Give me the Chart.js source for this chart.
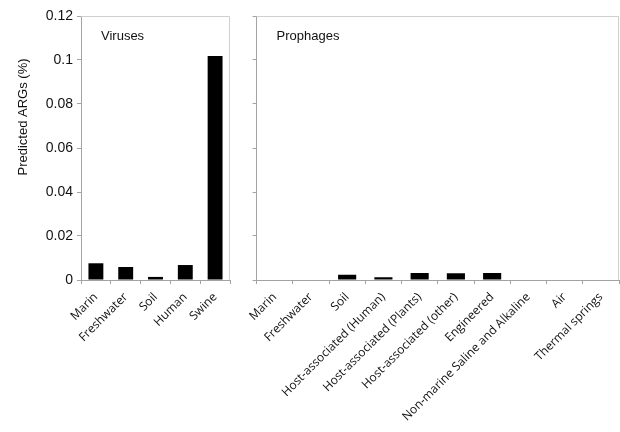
<!DOCTYPE html>
<html>
<head>
<meta charset="utf-8">
<script src="https://cdn.jsdelivr.net/npm/chart.js@4/dist/chart.umd.min.js"></script>
<style>
  html, body { margin: 0; padding: 0; background: #fff; overflow: hidden; }
  #wrap { position: relative; width: 620px; height: 432px; }
  #cv { position: absolute; left: 0; top: 0; }
  #cp { position: absolute; left: 245px; top: 0; }
</style>
</head>
<body>
<div id="wrap">
  <canvas id="cv" width="240" height="432"></canvas>
  <canvas id="cp" width="375" height="432"></canvas>
</div>
<script>
  // data
  const virusCategories = ["Marin", "Freshwater", "Soil", "Human", "Swine"];
  const virusValues = [0.0076, 0.0059, 0.0014, 0.0068, 0.1018];

  const prophageCategories = [
    "Marin",
    "Freshwater",
    "Soil",
    "Host-associated (Human)",
    "Host-associated (Plants)",
    "Host-associated (other)",
    "Engineered",
    "Non-marine Saline and Alkaline",
    "Air",
    "Thermal springs",
  ];
  const prophageValues = [0, 0, 0.0024, 0.0012, 0.0032, 0.0031, 0.0032, 0, 0, 0];

  const yTickLabels = ["0", "0.02", "0.04", "0.06", "0.08", "0.1", "0.12"];
  const Y_MAX = 0.12;
  const Y_STEP = 0.02;

  const AXIS = "#a3a3a3";
  const BOX = "#cfcfcf";
  const TEXT = "#111";
  const SANS = "'Liberation Sans', Arial, sans-serif";
  const CAT_FONT = "'Open Sans', sans-serif";

  const AREA_TOP = 16;
  const AREA_BOTTOM = 280;
  const H = 432;

  // thin box on top/right of the plot + panel caption
  function framePlugin(caption) {
    return {
      id: "frame",
      afterDraw(chart) {
        const { ctx, chartArea: a } = chart;
        const t = Math.round(a.top) + 0.5;
        const r = Math.round(a.right) - 0.5;
        ctx.save();
        ctx.strokeStyle = BOX;
        ctx.lineWidth = 1;
        ctx.beginPath();
        ctx.moveTo(a.left, t);
        ctx.lineTo(r, t);
        ctx.lineTo(r, a.bottom);
        ctx.stroke();
        ctx.fillStyle = TEXT;
        ctx.font = "13px " + SANS;
        ctx.textBaseline = "middle";
        ctx.textAlign = "left";
        ctx.fillText(caption, a.left + 20, a.top + 20);
        ctx.restore();
      },
    };
  }

  const yTitlePlugin = {
    id: "ytitle",
    afterDraw(chart) {
      const ctx = chart.ctx;
      ctx.save();
      ctx.translate(23, 117);
      ctx.rotate(-Math.PI / 2);
      ctx.fillStyle = TEXT;
      ctx.font = "13px " + SANS;
      ctx.textAlign = "center";
      ctx.textBaseline = "middle";
      ctx.fillText("Predicted ARGs (%)", 0, 0);
      ctx.restore();
    },
  };

  function makeChart(id, labels, values, o) {
    return new Chart(document.getElementById(id), {
      type: "bar",
      data: {
        labels: labels,
        datasets: [
          {
            data: values,
            backgroundColor: "#000",
            borderWidth: 0,
            barPercentage: 0.5,
            categoryPercentage: 1,
          },
        ],
      },
      options: {
        responsive: false,
        animation: false,
        layout: { padding: { top: AREA_TOP, right: o.padRight, left: 0, bottom: 0 } },
        plugins: {
          legend: { display: false },
          tooltip: { enabled: false },
        },
        scales: {
          x: {
            grid: { drawOnChartArea: false, drawTicks: true, tickLength: 4, color: AXIS },
            border: { color: AXIS },
            ticks: {
              autoSkip: false,
              minRotation: 45,
              maxRotation: 45,
              padding: 6,
              color: TEXT,
              font: { family: CAT_FONT, size: 12 },
            },
            afterFit(s) {
              s.height = H - AREA_BOTTOM;
            },
          },
          y: {
            min: 0,
            max: Y_MAX,
            grid: { drawOnChartArea: false, drawTicks: true, tickLength: 4, color: AXIS },
            border: { color: AXIS },
            ticks: {
              display: o.showTicks,
              stepSize: Y_STEP,
              padding: 4,
              color: TEXT,
              font: { family: SANS, size: 14 },
              callback: (v, i) => yTickLabels[i],
            },
            afterFit(s) {
              s.width = o.axisWidth;
            },
          },
        },
      },
      plugins: o.plugins,
    });
  }

  makeChart("cv", virusCategories, virusValues, {
    padRight: 10,
    axisWidth: 81,
    showTicks: true,
    plugins: [framePlugin("Viruses"), yTitlePlugin],
  });

  makeChart("cp", prophageCategories, prophageValues, {
    padRight: 1,
    axisWidth: 10,
    showTicks: false,
    plugins: [framePlugin("Prophages")],
  });
</script>
</body>
</html>
